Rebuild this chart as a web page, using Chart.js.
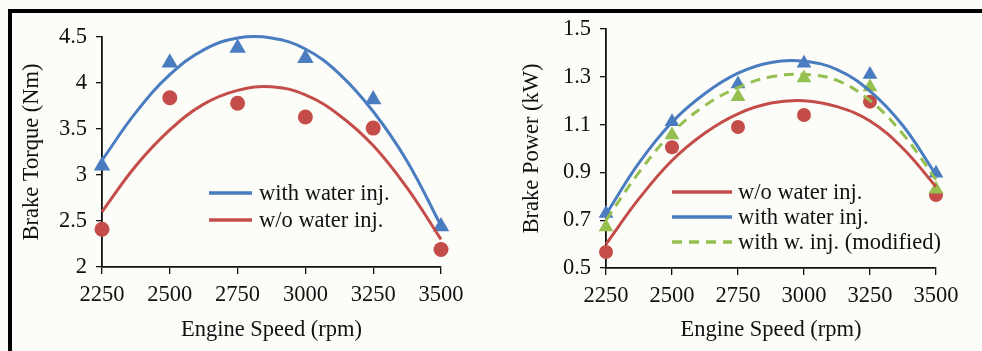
<!DOCTYPE html>
<html>
<head>
<meta charset="utf-8">
<script src="https://cdn.jsdelivr.net/npm/chart.js@4.4.1/dist/chart.umd.min.js"></script>
<style>
    html, body { margin: 0; padding: 0; background: #fcfcf9; }
    #frame { position: relative; width: 982px; height: 351px; overflow: hidden; }
    #frame::before {
        content: ''; position: absolute; left: 8px; top: 9px; right: 0; bottom: 0;
        border-top: 4px solid #000; border-left: 4px solid #000;
    }
    .box { position: absolute; top: 0; height: 351px; }
    #torqueBox { left: 0; width: 490px; }
    #powerBox { left: 490px; width: 492px; }
</style>
</head>
<body>
<div id="frame">
    <div class="box" id="torqueBox"><canvas id="torqueChart" width="490" height="351"></canvas></div>
    <div class="box" id="powerBox"><canvas id="powerChart" width="492" height="351"></canvas></div>
</div>
<script>
// engine speeds of the measured points and of the trendline points
const speeds = [2250, 2500, 2750, 3000, 3250, 3500];
const trendSpeeds = [2250, 2375, 2500, 2625, 2750, 2875, 3000, 3125, 3250, 3375, 3500];

// brake torque (Nm)
const torqueWith = [3.10, 4.22, 4.38, 4.27, 3.82, 2.44];
const torqueWithout = [2.41, 3.84, 3.78, 3.63, 3.51, 2.19];
const torqueWithTrend = [3.16, 3.68, 4.09, 4.36, 4.49, 4.49, 4.37, 4.10, 3.69, 3.15, 2.45];
const torqueWithoutTrend = [2.60, 3.10, 3.49, 3.77, 3.92, 3.96, 3.87, 3.65, 3.32, 2.86, 2.30];

// brake power (kW)
const powerWithout = [0.567, 1.005, 1.09, 1.14, 1.196, 0.805];
const powerWith = [0.728, 1.112, 1.27, 1.357, 1.31, 0.896];
const powerModified = [0.672, 1.057, 1.217, 1.295, 1.257, 0.83];
const powerWithoutTrend = [0.60, 0.79, 0.95, 1.065, 1.145, 1.19, 1.20, 1.175, 1.115, 1.00, 0.84];
const powerWithTrend = [0.725, 0.94, 1.11, 1.23, 1.315, 1.36, 1.365, 1.33, 1.24, 1.095, 0.89];
const powerModifiedTrend = [0.70, 0.90, 1.065, 1.18, 1.255, 1.30, 1.31, 1.285, 1.20, 1.06, 0.87];

const speedTicks = [2250, 2500, 2750, 3000, 3250, 3500];
const torqueTicks = [2, 2.5, 3, 3.5, 4, 4.5];
const powerTicks = [0.5, 0.7, 0.9, 1.1, 1.3, 1.5];

const BLUE = '#4a7cc0';
const RED = '#c44d4a';
const GREEN = '#95bf4f';
const INK = '#111';
const SERIF = "'Liberation Serif', 'Times New Roman', serif";
const FONT_SIZE = 22.5;

Chart.defaults.font.family = SERIF;

const toPoints = (xs, ys) => xs.map((x, i) => ({ x: x, y: ys[i] }));

// legend drawn inside the plot area, lines only
const insideLegend = {
    id: 'insideLegend',
    afterDatasetsDraw(chart, args, opts) {
        if (!opts.items) return;
        const ctx = chart.ctx;
        ctx.save();
        ctx.font = FONT_SIZE + 'px ' + SERIF;
        ctx.textBaseline = 'middle';
        ctx.textAlign = 'left';
        opts.items.forEach((idx, i) => {
            const ds = chart.data.datasets[idx];
            const y = opts.y + i * opts.rowGap;
            ctx.beginPath();
            ctx.strokeStyle = ds.borderColor;
            ctx.lineWidth = 3.5;
            ctx.setLineDash(ds.borderDash || []);
            ctx.moveTo(opts.x, y);
            ctx.lineTo(opts.x + opts.lineLength, y);
            ctx.stroke();
            ctx.setLineDash([]);
            ctx.fillStyle = INK;
            ctx.fillText(ds.label, opts.x + opts.lineLength + opts.textGap, y + 1);
        });
        ctx.restore();
    }
};

function markerSet(data, color, style, radius, order) {
    return {
        label: '',
        data: toPoints(speeds, data),
        showLine: false,
        pointStyle: style,
        pointRadius: radius,
        pointBackgroundColor: color,
        pointBorderColor: color,
        pointBorderWidth: 0,
        clip: false,
        order: order
    };
}

function trendSet(label, data, color, order, dash) {
    return {
        label: label,
        data: toPoints(trendSpeeds, data),
        showLine: true,
        borderColor: color,
        borderWidth: 3,
        borderDash: dash || [],
        tension: 0.4,
        capBezierPoints: false,  // let the curve top out above the last tick
        pointRadius: 0,
        fill: false,
        clip: false,
        order: order
    };
}

function buildScales(yTicks, yTitle, xHeight, yWidth) {
    const tickFont = { family: SERIF, size: FONT_SIZE };
    return {
        x: {
            type: 'linear',
            min: speedTicks[0],
            max: speedTicks[speedTicks.length - 1],
            afterBuildTicks: s => { s.ticks = speedTicks.map(v => ({ value: v })); },
            afterFit: s => { s.height = xHeight; },
            grid: { drawOnChartArea: false, drawTicks: true, tickLength: 7, color: '#111', lineWidth: 1.3 },
            border: { color: '#111', width: 1.8 },
            ticks: { color: INK, font: tickFont, padding: 8, maxRotation: 0, autoSkip: false, callback: v => String(v) },
            title: { display: true, text: 'Engine Speed (rpm)', color: INK, font: tickFont, padding: { top: 0, bottom: 7.5 } }
        },
        y: {
            type: 'linear',
            min: yTicks[0],
            max: yTicks[yTicks.length - 1],
            afterBuildTicks: s => { s.ticks = yTicks.map(v => ({ value: v })); },
            afterFit: s => { s.width = yWidth; },
            grid: { drawOnChartArea: false, drawTicks: true, tickLength: 6, color: '#111', lineWidth: 1.3 },
            border: { color: '#111', width: 1.8 },
            ticks: { color: INK, font: tickFont, padding: 9, callback: v => String(v) },
            title: { display: true, text: yTitle, color: INK, font: tickFont, padding: { top: 19, bottom: 0 } }
        }
    };
}

// Brake torque
new Chart(document.getElementById('torqueChart'), {
    type: 'scatter',
    plugins: [insideLegend],
    data: {
        datasets: [
            trendSet('with water inj.', torqueWithTrend, BLUE, 1),
            trendSet('w/o water inj.', torqueWithoutTrend, RED, 2),
            markerSet(torqueWith, BLUE, 'triangle', 9.5, 5),
            markerSet(torqueWithout, RED, 'circle', 7.5, 6)
        ]
    },
    options: {
        responsive: false,
        animation: false,
        layout: { padding: { top: 37, right: 49, bottom: 0, left: 0 } },
        scales: buildScales(torqueTicks, 'Brake Torque (Nm)', 84, 102),
        plugins: {
            legend: { display: false },
            tooltip: { enabled: false },
            insideLegend: { x: 209, y: 193, rowGap: 27, lineLength: 43, textGap: 7, items: [0, 1] }
        }
    }
});

// Brake power
new Chart(document.getElementById('powerChart'), {
    type: 'scatter',
    plugins: [insideLegend],
    data: {
        datasets: [
            trendSet('w/o water inj.', powerWithoutTrend, RED, 1),
            trendSet('with water inj.', powerWithTrend, BLUE, 2),
            trendSet('with w. inj. (modified)', powerModifiedTrend, GREEN, 3, [10, 7]),
            markerSet(powerModified, GREEN, 'triangle', 8.5, 8),
            markerSet(powerWith, BLUE, 'triangle', 8.5, 9),
            markerSet(powerWithout, RED, 'circle', 7, 10)
        ]
    },
    options: {
        responsive: false,
        animation: false,
        layout: { padding: { top: 29, right: 46, bottom: 0, left: 10 } },
        scales: buildScales(powerTicks, 'Brake Power (kW)', 83, 106),
        plugins: {
            legend: { display: false },
            tooltip: { enabled: false },
            insideLegend: { x: 182, y: 192, rowGap: 25, lineLength: 60, textGap: 6, items: [0, 1, 2] }
        }
    }
});
</script>
</body>
</html>
